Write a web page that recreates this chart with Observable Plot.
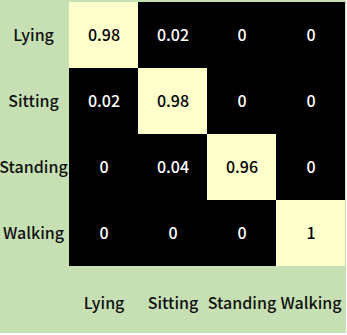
<!DOCTYPE html>
<html>
<head>
<meta charset="utf-8">
<script src="https://cdn.jsdelivr.net/npm/d3@7"></script>
<script src="https://cdn.jsdelivr.net/npm/@observablehq/plot@0.6"></script>
<style>
  html, body { margin: 0; padding: 0; background: #ffffff; }
  #chart svg { display: block; }
</style>
</head>
<body>
<div id="chart"></div>
<script>
const classes = ["Lying", "Sitting", "Standing", "Walking"];
const matrix = [
  [0.98, 0.02, 0, 0],
  [0.02, 0.98, 0, 0],
  [0, 0.04, 0.96, 0],
  [0, 0, 0, 1]
];
const cells = [];
classes.forEach((actual, i) => classes.forEach((pred, j) => cells.push({actual, pred, value: matrix[i][j]})));

const font = "'Noto Sans CJK SC', 'Open Sans', sans-serif";
const chart = Plot.plot({
  width: 346,
  height: 333,
  marginLeft: 67,
  marginRight: 0,
  marginTop: 0,
  marginBottom: 66,
  style: {background: "#c6e0b4", fontFamily: font, fontSize: "16px", color: "#111"},
  x: {domain: classes, padding: 0, label: null},
  y: {domain: classes, padding: 0, label: null},
  color: {type: "threshold", domain: [0.5], range: ["#000000", "#ffffcc"]},
  marks: [
    Plot.cell(cells, {x: "pred", y: "actual", fill: "value", inset: 0}),
    Plot.text(cells, {x: "pred", y: "actual", text: d => String(d.value), fill: d => d.value > 0.5 ? "#000000" : "#ffffff", fontSize: 16, fontWeight: 500}),
    Plot.axisX({tickSize: 0, tickPadding: 30, fontSize: 16, fontWeight: 500, fill: "#111"}),
    Plot.axisY({tickSize: 0, tickPadding: 34, textAnchor: "middle", fontSize: 16, fontWeight: 500, fill: "#111"})
  ]
});
document.getElementById("chart").append(chart);
</script>
</body>
</html>
